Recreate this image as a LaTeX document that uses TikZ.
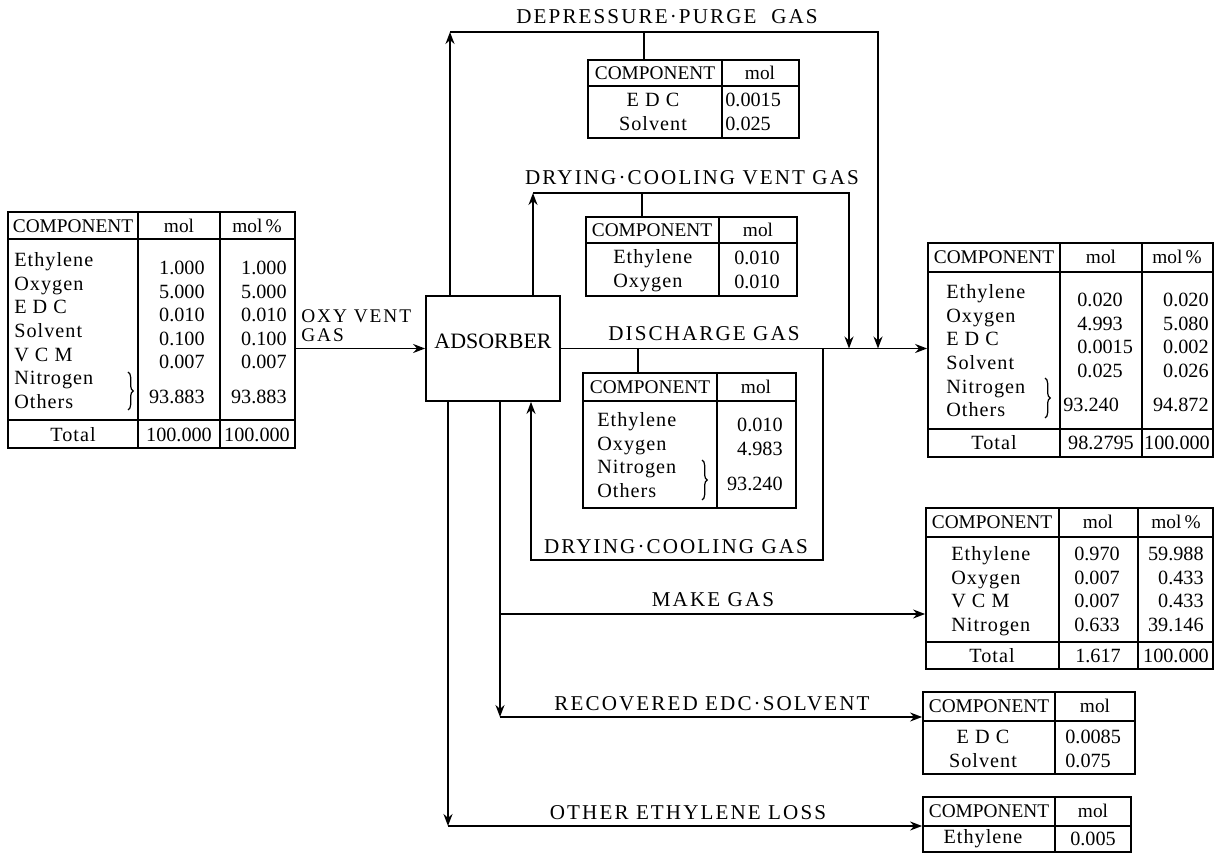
\documentclass[tikz,border=0pt]{standalone}
\usepackage{fontspec}
\setmainfont{Liberation Serif}
\newfontfamily\lblfont{Liberation Serif}[LetterSpace=10]
\newfontfamily\namefont{Liberation Serif}[LetterSpace=5]
\usetikzlibrary{positioning}
\usetikzlibrary{fit}
\usetikzlibrary{arrows.meta}
\usetikzlibrary{decorations.pathreplacing}

\begin{document}
\begin{tikzpicture}[x=0.02cm, y=-0.02cm,
        % table frames and the adsorber box
        tblframe/.style={draw, line width=1pt, inner sep=0pt},
        tblrule/.style={line width=0.9pt},
        % texts
        hdr/.style={inner sep=0pt, font=\fontsize{11}{13}\selectfont},
        cell/.style={inner sep=0pt, font=\fontsize{11.5}{13.4}\selectfont},
        names/.style={inner sep=0pt, font=\namefont\fontsize{11.5}{13.4}\selectfont},
        lbl/.style={inner sep=0pt, font=\lblfont\fontsize{12}{14}\selectfont},
        curly/.style={decorate, decoration={brace, amplitude=3pt}, line width=0.7pt},
        % piping
        flow/.style={line width=1pt},
        arr/.style={flow, -{Stealth[length=2.4mm, width=1.8mm]}}
    ]
    \useasboundingbox (0,0) rectangle (1221,854);

    % --- Feed: oxy vent gas ---
    \node[tblframe, fit={(8,212) (295,448)}] (feedT) {};
    \draw[tblrule] (8,239) -- (295,239) (8,420) -- (295,420) (138,212) -- (138,448) (220,212) -- (220,448);
    \node[hdr] (feedT_comp) at (73,226) {COMPONENT};
    \node[hdr] (feedT_mol) at (179,226) {mol};
    \node[hdr] (feedT_pct) at (257,226) {mol\,\%};
    \node[names, align=left, anchor=north west] (feedT_names) at (14,250) {\strut Ethylene\\Oxygen\\E D C\\Solvent\\V C M\\Nitrogen\\Others};
    \node[cell, align=right, anchor=north east] (feedT_val) at (205,258) {\strut 1.000\\5.000\\0.010\\0.100\\0.007};
    \node[cell, align=right, anchor=north east] (feedT_vpct) at (287,258) {\strut 1.000\\5.000\\0.010\\0.100\\0.007};
    \draw[curly] (128,372) -- (128,410);
    \node[cell, anchor=east] (feedT_n2) at (205,397) {93.883};
    \node[cell, anchor=east] (feedT_n2pct) at (287,397) {93.883};
    \node[names] (feedT_tot) at (73,435) {Total};
    \node[cell] (feedT_totval) at (179,435) {100.000};
    \node[cell] (feedT_totpct) at (257,435) {100.000};
    \node[lbl, font=\lblfont\fontsize{11}{11}\selectfont, anchor=west] (oxy_lbl) at (301,316) {OXY VENT};
    \node[lbl, font=\lblfont\fontsize{11}{11}\selectfont, anchor=west] (oxy_lbl2) at (301,335) {GAS};

    % --- Adsorber ---
    \node[tblframe, fit={(426,296) (560,401)}, font=\fontsize{12.5}{14}\selectfont] (ads) {ADSORBER};
    \draw[arr] (ads.west -| feedT.east) -- (ads.west);

    % --- Depressure purge gas ---
    \coordinate (dp_up) at (450,32);
    \coordinate (dp_dn) at (878,32);
    \coordinate (dp_tick) at (644,32);
    \draw[arr] (ads.north -| dp_up) -- (dp_up);
    \draw[arr] (dp_up) -- (dp_dn) -- (dp_dn |- ads.east);
    \node[lbl] (dp_lbl) at (667,17) {DEPRESSURE·PURGE\ \ GAS};
    \node[tblframe, fit={(588,60) (799,138)}] (purgeT) {};
    \draw[flow] (dp_tick) -- (dp_tick |- purgeT.north);
    \draw[tblrule] (588,86) -- (799,86) (722,60) -- (722,138);
    \node[hdr] (purgeT_comp) at (655,73) {COMPONENT};
    \node[hdr] (purgeT_mol) at (760,73) {mol};
    \node[names, align=center, anchor=north] (purgeT_names) at (653,90) {\strut E D C\\Solvent};
    \node[cell, align=left, anchor=north west] (purgeT_val) at (725,90) {\strut 0.0015\\0.025};

    % --- Drying-cooling vent gas ---
    \coordinate (cv_up) at (533,193);
    \coordinate (cv_dn) at (849,193);
    \coordinate (cv_tick) at (642,193);
    \draw[arr] (ads.north -| cv_up) -- (cv_up);
    \draw[arr] (cv_up) -- (cv_dn) -- (cv_dn |- ads.east);
    \node[lbl] (cv_lbl) at (692,178) {DRYING·COOLING\ VENT\ GAS};
    \node[tblframe, fit={(586,217) (797,296)}] (ventT) {};
    \draw[flow] (cv_tick) -- (cv_tick |- ventT.north);
    \draw[tblrule] (586,243) -- (797,243) (719,217) -- (719,296);
    \node[hdr] (ventT_comp) at (652,230) {COMPONENT};
    \node[hdr] (ventT_mol) at (758,230) {mol};
    \node[names, align=left, anchor=north west] (ventT_names) at (613,247) {\strut Ethylene\\Oxygen};
    \node[cell, align=center, anchor=north] (ventT_val) at (757,248) {\strut 0.010\\0.010};

    % --- Discharge gas ---
    \node[tblframe, fit={(928,243) (1213,457)}] (mainT) {};
    \draw[arr] (ads.east) -- (ads.east -| mainT.west);
    \node[lbl] (dc_lbl) at (704,334) {DISCHARGE\ GAS};
    \coordinate (dc_tick) at (638,348);
    \node[tblframe, fit={(583,373) (796,508)}] (dischT) {};
    \draw[flow] (dc_tick) -- (dc_tick |- dischT.north);
    \draw[tblrule] (583,401) -- (796,401) (717,373) -- (717,508);
    \node[hdr] (dischT_comp) at (650,387) {COMPONENT};
    \node[hdr] (dischT_mol) at (756,387) {mol};
    \node[names, align=left, anchor=north west] (dischT_names) at (597,410) {\strut Ethylene\\Oxygen\\Nitrogen\\Others};
    \node[cell, align=right, anchor=north east] (dischT_val) at (783,415) {\strut 0.010\\4.983};
    \draw[curly] (702,460) -- (702,500);
    \node[cell, anchor=east] (dischT_n2) at (783,484) {93.240};

    % discharge gas after mixing
    \draw[tblrule] (928,272) -- (1213,272) (928,429) -- (1213,429) (1060,243) -- (1060,457) (1142,243) -- (1142,457);
    \node[hdr] (mainT_comp) at (994,257) {COMPONENT};
    \node[hdr] (mainT_mol) at (1101,257) {mol};
    \node[hdr] (mainT_pct) at (1177,257) {mol\,\%};
    \node[names, align=left, anchor=north west] (mainT_names) at (946,282) {\strut Ethylene\\Oxygen\\E D C\\Solvent\\Nitrogen\\Others};
    \node[cell, align=left, anchor=north west] (mainT_val) at (1077,290) {\strut 0.020\\4.993\\0.0015\\0.025};
    \node[cell, align=right, anchor=north east] (mainT_vpct) at (1209,290) {\strut 0.020\\5.080\\0.002\\0.026};
    \draw[curly] (1045,378) -- (1045,418);
    \node[cell, anchor=west] (mainT_n2) at (1063,405) {93.240};
    \node[cell, anchor=east] (mainT_n2pct) at (1209,405) {94.872};
    \node[names] (mainT_tot) at (994,443) {Total};
    \node[cell] (mainT_totval) at (1101,443) {98.2795};
    \node[cell] (mainT_totpct) at (1177,443) {100.000};

    % --- Drying-cooling gas (return loop) ---
    \coordinate (dg_r) at (823,560);
    \coordinate (dg_l) at (531,560);
    \draw[arr] (ads.east -| dg_r) -- (dg_r) -- (dg_l) -- (dg_l |- ads.south);
    \node[lbl] (dg_lbl) at (676,547) {DRYING·COOLING\ GAS};

    % --- Make gas ---
    \node[tblframe, fit={(926,508) (1213,669)}] (makeT) {};
    \coordinate (mk) at (500,614);
    \draw[arr] (mk) -- (mk -| makeT.west);
    \node[lbl] (mk_lbl) at (713,600) {MAKE\ GAS};
    \draw[tblrule] (926,537) -- (1213,537) (926,642) -- (1213,642) (1059,508) -- (1059,669) (1138,508) -- (1138,669);
    \node[hdr] (makeT_comp) at (992,522) {COMPONENT};
    \node[hdr] (makeT_mol) at (1098,522) {mol};
    \node[hdr] (makeT_pct) at (1176,522) {mol\,\%};
    \node[names, align=left, anchor=north west] (makeT_names) at (951,544) {\strut Ethylene\\Oxygen\\V C M\\Nitrogen};
    \node[cell, align=center, anchor=north] (makeT_val) at (1097,544) {\strut 0.970\\0.007\\0.007\\0.633};
    \node[cell, align=right, anchor=north east] (makeT_vpct) at (1204,544) {\strut 59.988\\0.433\\0.433\\39.146};
    \node[names] (makeT_tot) at (992,656) {Total};
    \node[cell] (makeT_totval) at (1098,656) {1.617};
    \node[cell] (makeT_totpct) at (1176,656) {100.000};

    % --- Recovered EDC / solvent ---
    \node[tblframe, fit={(923,692) (1135,774)}] (recT) {};
    \coordinate (rc_dn) at (500,717);
    \draw[arr] (ads.south -| rc_dn) -- (rc_dn);
    \draw[arr] (rc_dn) -- (rc_dn -| recT.west);
    \node[lbl] (rc_lbl) at (712,704) {RECOVERED\ EDC·SOLVENT};
    \draw[tblrule] (923,721) -- (1135,721) (1055,692) -- (1055,774);
    \node[hdr] (recT_comp) at (989,706) {COMPONENT};
    \node[hdr] (recT_mol) at (1095,706) {mol};
    \node[names, align=center, anchor=north] (recT_names) at (983,727) {\strut E D C\\Solvent};
    \node[cell, align=left, anchor=north west] (recT_val) at (1065,727) {\strut 0.0085\\0.075};

    % --- Other ethylene loss ---
    \node[tblframe, fit={(923,797) (1131,852)}] (lossT) {};
    \coordinate (ol_dn) at (448,826);
    \draw[arr] (ads.south -| ol_dn) -- (ol_dn);
    \draw[arr] (ol_dn) -- (ol_dn -| lossT.west);
    \node[lbl] (ol_lbl) at (688,813) {OTHER\ ETHYLENE\ LOSS};
    \draw[tblrule] (923,826) -- (1131,826) (1055,797) -- (1055,852);
    \node[hdr] (lossT_comp) at (989,811) {COMPONENT};
    \node[hdr] (lossT_mol) at (1093,811) {mol};
    \node[names] (lossT_eth) at (983,839) {Ethylene};
    \node[cell] (lossT_val) at (1093,839) {0.005};

\end{tikzpicture}
\end{document}
